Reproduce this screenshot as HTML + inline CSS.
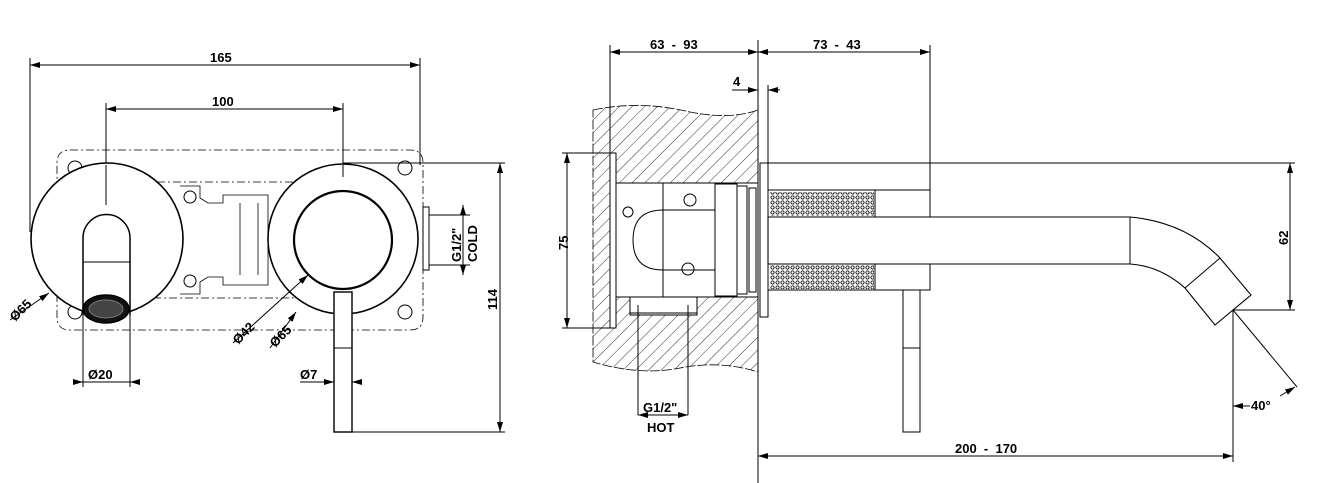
<!DOCTYPE html>
<html><head><style>body{margin:0;background:#fff}svg{display:block}text{font-family:"Liberation Sans",sans-serif;font-weight:bold;font-size:13px;fill:#000}</style></head><body>
<svg width="1321" height="483" viewBox="0 0 1321 483" xmlns="http://www.w3.org/2000/svg">
<defs>
<pattern id="h" width="9" height="9" patternUnits="userSpaceOnUse" patternTransform="rotate(45)"><line x1="0" y1="0" x2="0" y2="9" stroke="#000" stroke-width="0.8"/></pattern>
<pattern id="k" width="5" height="5" patternUnits="userSpaceOnUse"><circle cx="2.5" cy="2.5" r="1.6" fill="none" stroke="#000" stroke-width="0.8"/></pattern>
<marker id="a" viewBox="0 0 10 6" refX="10" refY="3" markerWidth="10" markerHeight="6" orient="auto-start-reverse" markerUnits="userSpaceOnUse"><path d="M0,0L10,3L0,6z" fill="#000"/></marker>
</defs>
<g fill="none" stroke="#000" stroke-width="1">
<!-- LEFT VIEW -->
<line x1="30" y1="65" x2="420" y2="65" marker-start="url(#a)" marker-end="url(#a)"/>
<line x1="30" y1="58" x2="30" y2="232"/><line x1="420" y1="58" x2="420" y2="165"/>
<line x1="106" y1="109" x2="343" y2="109" marker-start="url(#a)" marker-end="url(#a)"/>
<line x1="106" y1="103" x2="106" y2="205"/><line x1="343" y1="103" x2="343" y2="177"/>
<path d="M70,150 H410 Q423,150 423,163 V317 Q423,330 410,330 H70 Q57,330 57,317 V163 Q57,150 70,150Z" stroke-dasharray="8,3,2,3" stroke-width="0.8"/>
<rect x="157" y="182" width="136" height="116" stroke-dasharray="8,3,2,3" stroke-width="0.8"/>
<circle cx="75" cy="168" r="7"/><circle cx="75" cy="312" r="7"/><circle cx="405" cy="168" r="7"/><circle cx="405" cy="312" r="7"/>
<circle cx="190" cy="197" r="6"/><circle cx="190" cy="281" r="6"/>
<path d="M180,186 h20 v12 l8,5 h15 v-8 h45 v90 h-45 v-8 h-15 l-8,5 v12 h-20" stroke-width="0.8"/>
<line x1="240" y1="203" x2="240" y2="275" stroke-width="0.8"/><line x1="258" y1="203" x2="258" y2="275" stroke-width="0.8"/>
<circle cx="107" cy="239" r="76" fill="#fff" stroke-width="1.6"/>
<path d="M83,315 V238 A23.5,23.5 0 0 1 130,238 V315" stroke-width="1.5" fill="#fff"/>
<line x1="83" y1="262" x2="130" y2="262"/>
<ellipse cx="106" cy="309" rx="23" ry="14" fill="#111" stroke-width="1.5"/>
<ellipse cx="106" cy="309" rx="17" ry="9" fill="#444" stroke="#777"/>
<line x1="83" y1="315" x2="83" y2="387"/><line x1="130" y1="315" x2="130" y2="387"/>
<line x1="73" y1="382" x2="83" y2="382" marker-end="url(#a)"/><line x1="140" y1="382" x2="130" y2="382" marker-end="url(#a)"/>
<line x1="83" y1="382" x2="130" y2="382"/>
<rect x="423" y="207" width="6" height="63"/>
<circle cx="343" cy="239" r="75" fill="#fff" stroke-width="1.6"/>
<circle cx="343" cy="240" r="49" stroke-width="2.2"/>
<line x1="106" y1="165" x2="106" y2="205"/><line x1="343" y1="165" x2="343" y2="177"/>
<rect x="334" y="292" width="18" height="140" fill="#fff" stroke-width="1.4"/>
<line x1="334" y1="348" x2="352" y2="348"/>
<line x1="300" y1="382" x2="334" y2="382" marker-end="url(#a)"/><line x1="362" y1="382" x2="352" y2="382" marker-end="url(#a)"/>
<line x1="343" y1="163" x2="505" y2="163"/><line x1="352" y1="432" x2="505" y2="432"/>
<line x1="500" y1="163" x2="500" y2="432" marker-start="url(#a)" marker-end="url(#a)"/>
<line x1="429" y1="215" x2="470" y2="215"/><line x1="429" y1="265" x2="470" y2="265"/>
<line x1="463" y1="205" x2="463" y2="275" marker-start="url(#a)" marker-end="url(#a)"/>
<line x1="10" y1="320" x2="49" y2="293" marker-end="url(#a)"/>
<line x1="233" y1="343" x2="308" y2="275" marker-end="url(#a)"/>
<line x1="270" y1="348" x2="296" y2="312" marker-end="url(#a)"/>
<!-- RIGHT VIEW -->
<path d="M593,110 Q640,100 690,112 Q730,120 758,110 V372 Q720,360 680,368 Q640,376 593,362 Z" fill="url(#h)" stroke-width="0.8" stroke-dasharray="10,2"/>
<path d="M615,183 H758 V297 H697 V315 H630 V297 H615 Z" fill="#fff" stroke-width="1"/>
<rect x="610" y="153" width="6" height="175" fill="#fff"/>
<rect x="616" y="183" width="47" height="114"/>
<path d="M663,210 H715 V270 H663 Q633,270 633,240 Q633,210 663,210Z"/>
<rect x="630" y="297" width="67" height="16"/>
<rect x="715" y="184" width="22" height="112"/><rect x="737" y="186" width="10" height="108"/><rect x="749" y="188" width="7" height="104"/>
<circle cx="628" cy="212" r="5"/><circle cx="688" cy="269" r="6"/><circle cx="690" cy="200" r="6"/>
<line x1="610" y1="52" x2="758" y2="52" marker-start="url(#a)" marker-end="url(#a)"/>
<line x1="758" y1="52" x2="930" y2="52" marker-start="url(#a)" marker-end="url(#a)"/>
<line x1="610" y1="45" x2="610" y2="153"/>
<line x1="758" y1="40" x2="758" y2="483"/>
<line x1="930" y1="45" x2="930" y2="190"/>
<line x1="732" y1="90" x2="758" y2="90" marker-end="url(#a)"/><line x1="780" y1="90" x2="768" y2="90" marker-end="url(#a)"/>
<line x1="768" y1="85" x2="768" y2="163"/>
<line x1="562" y1="153" x2="610" y2="153"/><line x1="562" y1="328" x2="610" y2="328"/>
<line x1="567" y1="153" x2="567" y2="328" marker-start="url(#a)" marker-end="url(#a)"/>
<rect x="760" y="163" width="8" height="154"/>
<rect x="768" y="190" width="107" height="100" fill="#fff"/>
<rect x="770" y="192" width="104" height="24" fill="url(#k)" stroke="none"/>
<rect x="770" y="265" width="104" height="24" fill="url(#k)" stroke="none"/>
<rect x="875" y="190" width="55" height="100" fill="#fff"/>
<line x1="768" y1="163" x2="1295" y2="163"/>
<path d="M768,217 H1130 Q1185,222 1220,258 L1251,295 L1215,325 L1185,288 Q1160,266 1130,264 H768 Z" fill="#fff" stroke-width="1.1"/>
<line x1="1130" y1="217" x2="1130" y2="264"/><line x1="1220" y1="258" x2="1185" y2="288"/>
<rect x="903" y="290" width="17" height="142" fill="#fff"/><line x1="903" y1="348" x2="920" y2="348"/>
<line x1="1233" y1="310" x2="1295" y2="310"/>
<line x1="1290" y1="163" x2="1290" y2="310" marker-start="url(#a)" marker-end="url(#a)"/>
<line x1="1233" y1="310" x2="1233" y2="462"/><line x1="1233" y1="310" x2="1297" y2="387"/>
<line x1="1250" y1="406" x2="1233" y2="406" marker-end="url(#a)"/>
<line x1="1280" y1="396" x2="1295" y2="387" marker-end="url(#a)"/>
<line x1="758" y1="456" x2="1233" y2="456" marker-start="url(#a)" marker-end="url(#a)"/>
<line x1="638" y1="305" x2="638" y2="415"/><line x1="688" y1="305" x2="688" y2="415"/>
<line x1="638" y1="415" x2="688" y2="415" marker-start="url(#a)" marker-end="url(#a)"/>
</g>
<text x="210" y="62">165</text>
<text x="212" y="106">100</text>
<text x="88" y="379">Ø20</text>
<text x="300" y="379">Ø7</text>
<text transform="translate(497,310) rotate(-90)">114</text>
<text transform="translate(461,262) rotate(-90)">G1/2"</text>
<text transform="translate(477,262) rotate(-90)">COLD</text>
<text transform="translate(15,322) rotate(-45)">Ø65</text>
<text transform="translate(238,345) rotate(-45)">Ø42</text>
<text transform="translate(275,348) rotate(-45)">Ø65</text>
<text x="650" y="49" xml:space="preserve">63  -  93</text>
<text x="813" y="49" xml:space="preserve">73  -  43</text>
<text x="733" y="86">4</text>
<text transform="translate(568,250) rotate(-90)">75</text>
<text transform="translate(1288,245) rotate(-90)">62</text>
<text x="1251" y="410">40°</text>
<text x="955" y="453" xml:space="preserve">200  -  170</text>
<text x="643" y="412">G1/2"</text>
<text x="647" y="432">HOT</text>
</svg>
</body></html>
